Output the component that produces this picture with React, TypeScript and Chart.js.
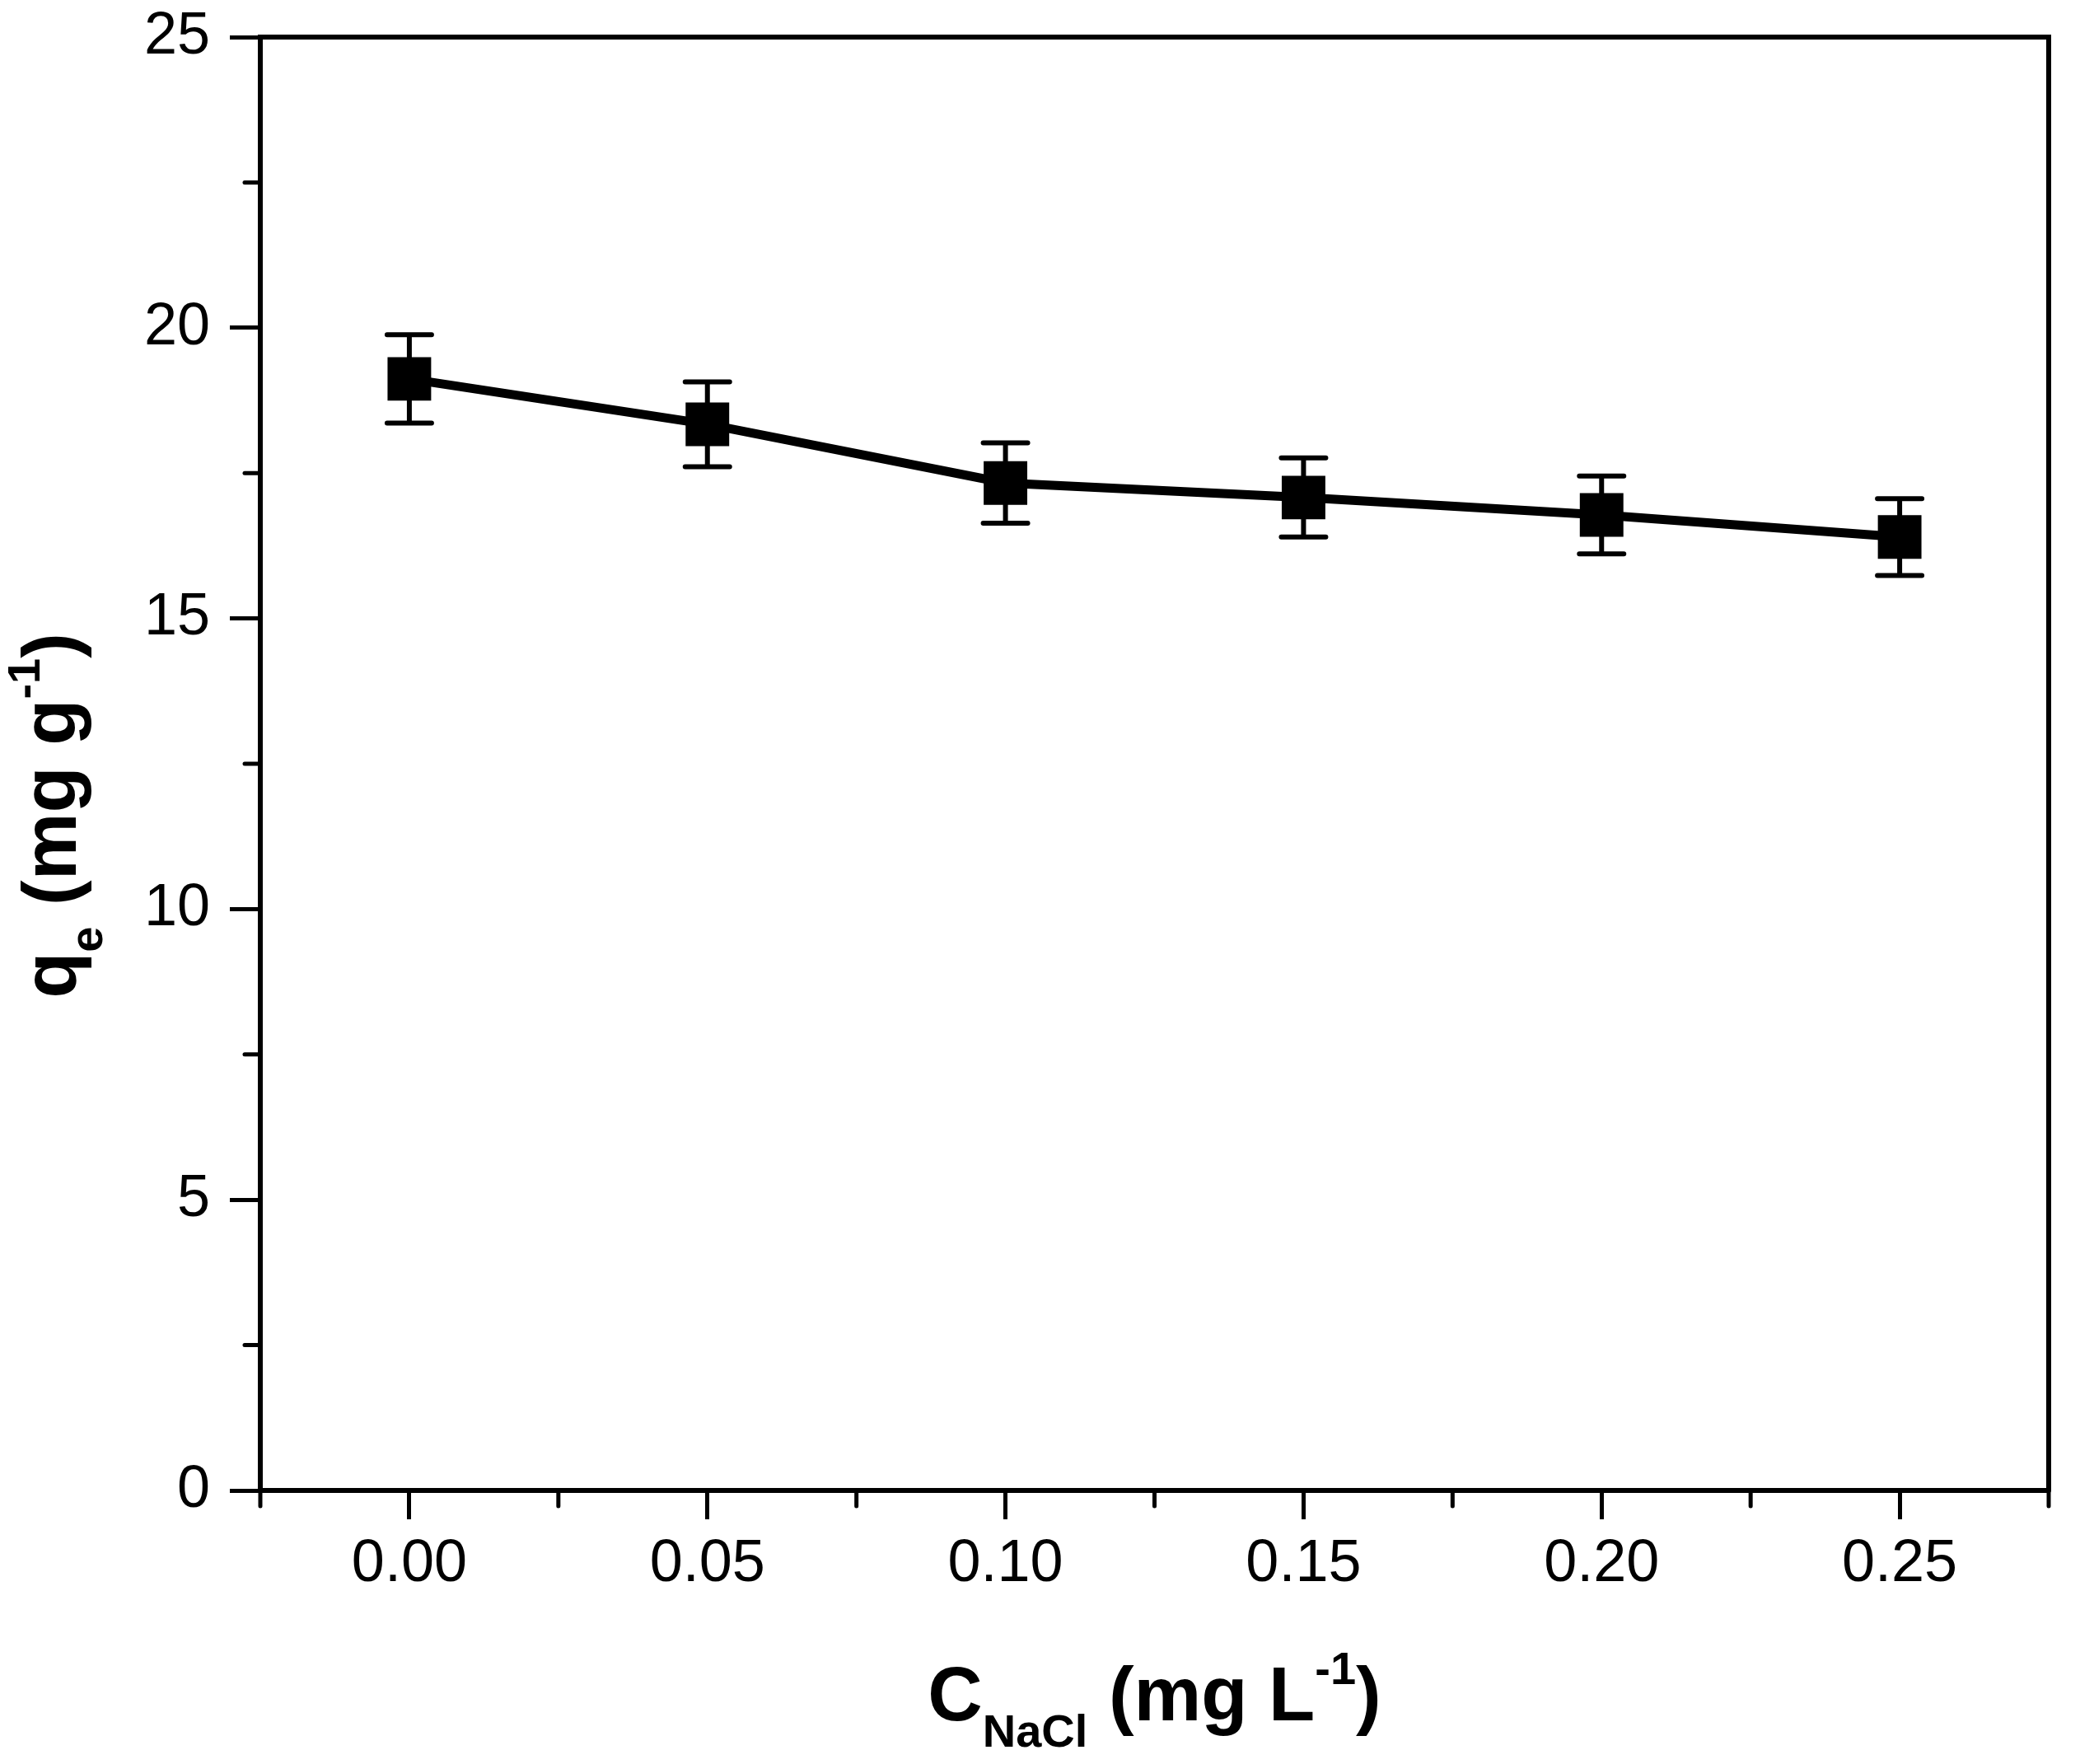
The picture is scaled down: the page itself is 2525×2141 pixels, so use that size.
import { useEffect, useRef } from "react"
import { Chart, registerables, type ChartConfiguration, type Plugin } from "chart.js"

Chart.register(...registerables)

// NaCl concentration (mg L-1) and adsorption capacity qe (mg g-1)
const naclConc = [0, 0.05, 0.1, 0.15, 0.2, 0.25]
const qeValues = [19.12, 18.34, 17.33, 17.08, 16.78, 16.4]
const qeErrors = [0.76, 0.73, 0.69, 0.68, 0.67, 0.66]

const xMajorTicks = [0, 0.05, 0.1, 0.15, 0.2, 0.25]
const xMinorTicks = [-0.025, 0.025, 0.075, 0.125, 0.175, 0.225, 0.275]
const yMinorTicks = [2.5, 7.5, 12.5, 17.5, 22.5]

const FONT = '"Liberation Sans", Arial, Helvetica, sans-serif'

type Seg = { text: string; kind: "main" | "sub" | "sup" }

const xTitle: Seg[] = [
  { text: "C", kind: "main" },
  { text: "NaCl", kind: "sub" },
  { text: " (mg L", kind: "main" },
  { text: "-1", kind: "sup" },
  { text: ")", kind: "main" },
]

const yTitle: Seg[] = [
  { text: "q", kind: "main" },
  { text: "e", kind: "sub" },
  { text: " (mg g", kind: "main" },
  { text: "-1", kind: "sup" },
  { text: ")", kind: "main" },
]

const MAIN_SIZE = 92
const SMALL_SIZE = 56

function segFont(s: Seg) {
  return `bold ${s.kind === "main" ? MAIN_SIZE : SMALL_SIZE}px ${FONT}`
}

function segShift(s: Seg) {
  if (s.kind === "sub") return 32
  if (s.kind === "sup") return -44
  return 0
}

// draws a title with sub/superscripts, centred on (0,0) of the current transform, baseline at y=0
function drawRich(ctx: CanvasRenderingContext2D, segs: Seg[]) {
  let total = 0
  const widths = segs.map((s) => {
    ctx.font = segFont(s)
    const w = ctx.measureText(s.text).width
    total += w
    return w
  })
  let x = -total / 2
  segs.forEach((s, i) => {
    ctx.font = segFont(s)
    ctx.fillText(s.text, x, segShift(s))
    x += widths[i]
  })
}

const framePlugin: Plugin = {
  id: "frame",
  beforeDatasetsDraw(chart) {
    const ctx = chart.ctx
    const { left, right, top, bottom } = chart.chartArea
    const xs = chart.scales.x
    const ys = chart.scales.y
    ctx.save()
    ctx.strokeStyle = "#000"
    ctx.lineCap = "round"

    // top and right border
    ctx.lineWidth = 6
    ctx.beginPath()
    ctx.moveTo(left, top)
    ctx.lineTo(right, top)
    ctx.lineTo(right, bottom)
    ctx.stroke()

    // minor ticks
    ctx.lineWidth = 5
    xMinorTicks.forEach((v) => {
      const px = xs.getPixelForValue(v)
      ctx.beginPath()
      ctx.moveTo(px, bottom)
      ctx.lineTo(px, bottom + 19)
      ctx.stroke()
    })
    yMinorTicks.forEach((v) => {
      const py = ys.getPixelForValue(v)
      ctx.beginPath()
      ctx.moveTo(left, py)
      ctx.lineTo(left - 19, py)
      ctx.stroke()
    })

    // error bars
    ctx.lineWidth = 6
    const capHalf = 27
    naclConc.forEach((c, i) => {
      const px = xs.getPixelForValue(c)
      const hi = ys.getPixelForValue(qeValues[i] + qeErrors[i])
      const lo = ys.getPixelForValue(qeValues[i] - qeErrors[i])
      ctx.lineCap = "butt"
      ctx.beginPath()
      ctx.moveTo(px, hi)
      ctx.lineTo(px, lo)
      ctx.stroke()
      ctx.lineCap = "round"
      ctx.beginPath()
      ctx.moveTo(px - capHalf, hi)
      ctx.lineTo(px + capHalf, hi)
      ctx.moveTo(px - capHalf, lo)
      ctx.lineTo(px + capHalf, lo)
      ctx.stroke()
    })
    ctx.restore()
  },
  afterDraw(chart) {
    const ctx = chart.ctx
    const { left, right } = chart.chartArea
    ctx.save()
    ctx.fillStyle = "#000"
    ctx.textBaseline = "alphabetic"
    ctx.textAlign = "left"

    ctx.save()
    ctx.translate((left + right) / 2, 2088)
    drawRich(ctx, xTitle)
    ctx.restore()

    ctx.save()
    ctx.translate(92, 990)
    ctx.rotate(-Math.PI / 2)
    drawRich(ctx, yTitle)
    ctx.restore()

    ctx.restore()
  },
}

export default function App() {
  const canvasRef = useRef<HTMLCanvasElement>(null)
  const chartRef = useRef<Chart | null>(null)

  useEffect(() => {
    if (!canvasRef.current) return
    if (chartRef.current) chartRef.current.destroy()

    const config: ChartConfiguration = {
      type: "line",
      data: {
        datasets: [
          {
            data: naclConc.map((c, i) => ({ x: c, y: qeValues[i] })),
            borderColor: "#000",
            borderWidth: 11,
            backgroundColor: "#000",
            pointStyle: "rect",
            pointRadius: 36,
            pointBorderWidth: 2,
            pointBorderColor: "#000",
            pointBackgroundColor: "#000",
            tension: 0,
          },
        ],
      },
      options: {
        responsive: false,
        devicePixelRatio: 1,
        animation: false,
        layout: { padding: { left: 0, right: 8, top: 45, bottom: 0 } },
        plugins: { legend: { display: false }, tooltip: { enabled: false } },
        scales: {
          x: {
            type: "linear",
            min: -0.025,
            max: 0.275,
            afterBuildTicks: (scale) => {
              scale.ticks = xMajorTicks.map((v) => ({ value: v }))
            },
            afterFit: (scale) => {
              scale.height = 332
              scale.paddingLeft = 0
              scale.paddingRight = 0
            },
            grid: {
              drawOnChartArea: false,
              drawTicks: true,
              tickLength: 35,
              tickWidth: 5,
              tickColor: "#000",
            },
            border: { display: true, width: 6, color: "#000" },
            ticks: {
              color: "#000",
              font: { family: FONT, size: 72 },
              padding: 12,
              maxRotation: 0,
              autoSkip: false,
              callback: (v) => Number(v).toFixed(2),
            },
          },
          y: {
            type: "linear",
            min: 0,
            max: 25,
            afterFit: (scale) => {
              scale.width = 316
              scale.paddingTop = 0
              scale.paddingBottom = 0
            },
            grid: {
              drawOnChartArea: false,
              drawTicks: true,
              tickLength: 37,
              tickWidth: 5,
              tickColor: "#000",
            },
            border: { display: true, width: 6, color: "#000" },
            ticks: {
              stepSize: 5,
              color: "#000",
              font: { family: FONT, size: 72 },
              padding: 24,
            },
          },
        },
      },
      plugins: [framePlugin],
    }

    chartRef.current = new Chart(canvasRef.current, config)

    return () => {
      if (chartRef.current) {
        chartRef.current.destroy()
        chartRef.current = null
      }
    }
  }, [])

  return (
    <div style={{ position: "absolute", left: 0, top: 0, width: 2525, height: 2141, background: "#fff" }}>
      <canvas ref={canvasRef} width={2525} height={2141} style={{ width: 2525, height: 2141 }} />
    </div>
  )
}
